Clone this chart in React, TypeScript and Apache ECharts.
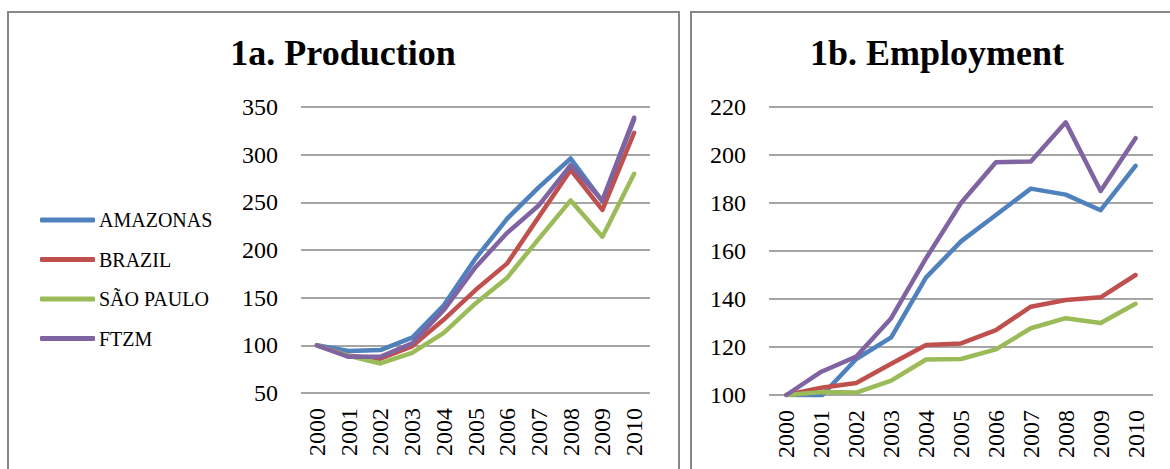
import React, { useEffect, useRef } from "react";
import * as echarts from "echarts";

const years = ["2000", "2001", "2002", "2003", "2004", "2005", "2006", "2007", "2008", "2009", "2010"];
const seriesNames = ["AMAZONAS", "BRAZIL", "SÃO PAULO", "FTZM"];
const colors = ["#4F81BD", "#C0504D", "#9BBB59", "#8064A2"];

// 1a. Production
const prodAmazonas = [100, 94, 95, 108, 142, 191, 233, 266, 296, 251, 337];
const prodBrazil = [100, 89, 86, 99, 127, 158, 186, 235, 284, 242, 323];
const prodSaoPaulo = [100, 89, 81, 92, 113, 144, 171, 212, 252, 214, 280];
const prodFtzm = [100, 88, 88, 102, 137, 182, 218, 247, 289, 252, 339];

// 1b. Employment
const empAmazonas = [100, 99.6, 115, 124, 149, 164, 175, 186, 183.5, 177, 195.5];
const empBrazil = [100, 103, 105, 113, 120.8, 121.5, 127, 136.8, 139.6, 140.7, 150];
const empSaoPaulo = [100, 101.2, 101, 106, 114.8, 115, 119, 127.8, 132, 130, 138];
const empFtzm = [100, 109.7, 116, 132, 157, 180, 197, 197.3, 213.6, 185, 207];

const prodTicks = { min: 50, max: 350, interval: 50 };
const empTicks = { min: 100, max: 220, interval: 20 };

const FONT = "Liberation Serif";

export default function App() {
  const ref = useRef<HTMLDivElement>(null);
  useEffect(() => {
    if (!ref.current) return;
    const chart = echarts.init(ref.current, undefined, { renderer: "svg" });
    const prodData = [prodAmazonas, prodBrazil, prodSaoPaulo, prodFtzm];
    const empData = [empAmazonas, empBrazil, empSaoPaulo, empFtzm];
    const mkSeries = (data: number[][], idx: number) =>
      data.map((d, i) => ({
        type: "line",
        name: seriesNames[i],
        xAxisIndex: idx,
        yAxisIndex: idx,
        data: d,
        symbol: "none",
        color: colors[i],
        lineStyle: { width: 4.5, color: colors[i], cap: "round", join: "round" },
        z: 2 + i,
      }));
    const xAxisBase = (gridIndex: number) => ({
      type: "category",
      gridIndex,
      data: years,
      boundaryGap: true,
      axisLine: { show: false },
      axisTick: { show: false },
      axisLabel: {
        rotate: 90,
        margin: 15,
        fontFamily: FONT,
        fontSize: 24,
        color: "#000",
      },
    });
    const yAxisBase = (gridIndex: number, t: { min: number; max: number; interval: number }) => ({
      type: "value",
      gridIndex,
      min: t.min,
      max: t.max,
      interval: t.interval,
      axisLine: { show: false },
      axisTick: { show: false },
      axisLabel: { margin: 23, fontFamily: FONT, fontSize: 24, color: "#000" },
      splitLine: { lineStyle: { color: "#878787", width: 1.5 } },
    });
    chart.setOption({
      animation: false,
      backgroundColor: "#fff",
      grid: [
        { left: 301, right: 520, top: 107, bottom: 76 },
        { left: 769, right: 17, top: 107, bottom: 74 },
      ],
      xAxis: [xAxisBase(0), xAxisBase(1)],
      yAxis: [yAxisBase(0, prodTicks), yAxisBase(1, empTicks)],
      legend: {
        orient: "vertical",
        left: 35,
        top: 205,
        icon: "roundRect",
        itemWidth: 55,
        itemHeight: 5,
        itemGap: 19.5,
        itemStyle: { borderWidth: 0 },
        textStyle: { fontFamily: FONT, fontSize: 20, color: "#000", lineHeight: 20, padding: [0, 0, 0, -1] },
        data: seriesNames,
      },
      graphic: [
        {
          type: "rect",
          shape: { x: 8, y: 12, width: 671, height: 480 },
          style: { fill: "none", stroke: "#878787", lineWidth: 2 },
          silent: true,
        },
        {
          type: "rect",
          shape: { x: 691, y: 12, width: 500, height: 480 },
          style: { fill: "none", stroke: "#878787", lineWidth: 2 },
          silent: true,
        },
        {
          type: "text",
          x: 343,
          y: 53,
          style: {
            text: "1a. Production",
            fontFamily: FONT,
            fontSize: 36,
            fontWeight: "bold",
            fill: "#000",
            textAlign: "center",
            textVerticalAlign: "middle",
          },
        },
        {
          type: "text",
          x: 937,
          y: 53,
          style: {
            text: "1b. Employment",
            fontFamily: FONT,
            fontSize: 36,
            fontWeight: "bold",
            fill: "#000",
            textAlign: "center",
            textVerticalAlign: "middle",
          },
        },
      ],
      series: [...mkSeries(prodData, 0), ...mkSeries(empData, 1)],
    });
    return () => chart.dispose();
  }, []);
  return (
    <div
      ref={ref}
      style={{ position: "absolute", left: 0, top: 0, width: 1170, height: 469 }}
    />
  );
}
